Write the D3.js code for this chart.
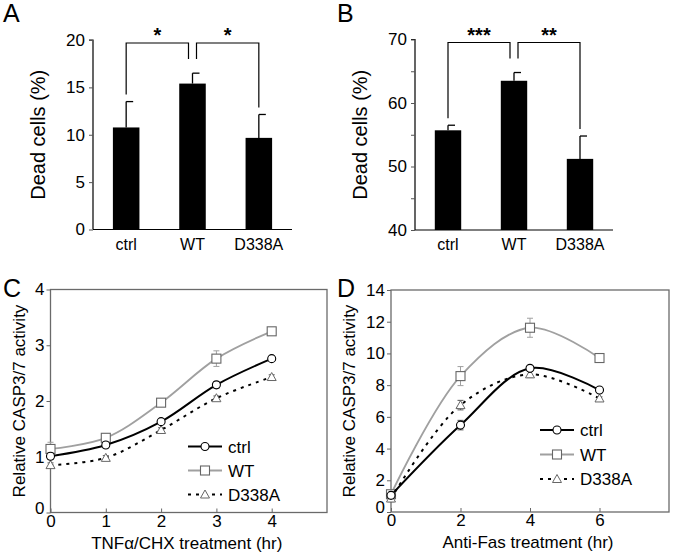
<!DOCTYPE html>
<html><head><meta charset="utf-8">
<script src="https://cdn.jsdelivr.net/npm/d3@7"></script>
<style>body{margin:0;background:#fff}svg{display:block;font-family:"Liberation Sans",Arial,sans-serif}</style>
</head><body><svg id="c" width="675" height="557"></svg>
<script>
// ---- Data ----
const barCats = ["ctrl", "WT", "D338A"];
const aValues = [10.77, 15.4, 9.67];
const aErrors = [2.73, 1.1, 2.47];
const aTicks = [0, 5, 10, 15, 20];
const bValues = [55.7, 63.5, 51.2];
const bErrors = [0.8, 1.3, 3.6];
const bTicks = [40, 45, 50, 55, 60, 65, 70];
const bTickLabels = [40, 50, 60, 70];

const cTimes = [0, 1, 2, 3, 4];
const cCtrl = [1.01, 1.21, 1.63, 2.29, 2.76];
const cCtrlErr = [0.06, 0.05, 0.04, 0.06, 0.04];
const cWT = [1.14, 1.34, 1.97, 2.76, 3.25];
const cWTErr = [0.12, 0.04, 0.06, 0.14, 0.06];
const cD338A = [0.85, 0.98, 1.48, 2.05, 2.43];
const cD338AErr = [0.04, 0.04, 0.04, 0.04, 0.04];
const cXTicks = [0, 1, 2, 3, 4];
const cYTicks = [0, 1, 2, 3, 4];

const dTimes = [0, 2, 4, 6];
const dCtrl = [1.05, 5.48, 9.06, 7.69];
const dCtrlErr = [0.2, 0.3, 0.1, 0.1];
const dWT = [1.12, 8.57, 11.62, 9.71];
const dWTErr = [0.2, 0.6, 0.6, 0.1];
const dD338A = [0.85, 6.74, 8.68, 7.16];
const dD338AErr = [0.2, 0.3, 0.2, 0.1];
const dXTicks = [0, 2, 4, 6];
const dYTicks = [0, 2, 4, 6, 8, 10, 12, 14];

const svg = d3.select("#c");
const GRAY = "#a0a0a0";
const fmt = d3.format("d");

function panelLabel(t, x, y) {
  svg.append("text").attr("x", x).attr("y", y).attr("font-size", 25).text(t);
}

// ---- Bar panels ----
function barPanel(o) {
  const g = svg.append("g");
  const y = d3.scaleLinear().domain(o.domain).range([o.y0, o.y1]);
  const x = d3.scaleBand().domain(barCats).range([o.x0, o.x1]).paddingInner(0.6).paddingOuter(0.3);
  g.selectAll("rect.b").data(o.values).join("rect")
    .attr("x", (d, i) => x(barCats[i]))
    .attr("y", d => y(d))
    .attr("width", x.bandwidth())
    .attr("height", d => y(o.domain[0]) - y(d))
    .attr("fill", "#000");
  o.values.forEach((v, i) => {
    const cx = x(barCats[i]) + x.bandwidth() / 2;
    g.append("line").attr("x1", cx).attr("x2", cx).attr("y1", y(v)).attr("y2", y(v + o.errors[i])).attr("stroke", "#000").attr("stroke-width", 1.3);
    g.append("line").attr("x1", cx).attr("x2", cx + 7).attr("y1", y(v + o.errors[i])).attr("y2", y(v + o.errors[i])).attr("stroke", "#000").attr("stroke-width", 1.3);
  });
  const ax = d3.axisLeft(y).tickValues(o.ticks).tickSize(4).tickFormat(d => o.labels.includes(d) ? fmt(d) : "");
  const ag = g.append("g").attr("transform", `translate(${o.x0},0)`).call(ax);
  ag.select(".domain").attr("stroke", "#000").attr("stroke-width", 1.2).attr("d", `M-4,${o.y1}H0V${o.y0}`);
  ag.selectAll("text").attr("font-size", 17).attr("font-family", "Liberation Sans, Arial").attr("fill", "#000").attr("dx", -1);
  ag.selectAll("line").attr("stroke", "#555");
  g.append("line").attr("x1", o.x0).attr("x2", o.x1).attr("y1", o.y0).attr("y2", o.y0).attr("stroke", "#000").attr("stroke-width", 1.2);
  barCats.forEach(c => {
    g.append("text").attr("x", x(c) + x.bandwidth() / 2).attr("y", o.y0 + 20).attr("text-anchor", "middle").attr("font-size", 16).text(c);
  });
  g.append("text").attr("transform", `translate(${o.x0 - 48},${(o.y0 + o.y1) / 2}) rotate(-90)`).attr("text-anchor", "middle").attr("font-size", 20).text("Dead cells (%)");
  const top = o.y1 + 3;
  const cxs = barCats.map(c => x(c) + x.bandwidth() / 2);
  const br = (x1, x2, l1, l2, star) => {
    g.append("path").attr("d", `M${x1},${l1}V${top}H${x2}V${l2}`).attr("fill", "none").attr("stroke", "#000").attr("stroke-width", 1.2);
    g.append("text").attr("x", (x1 + x2) / 2).attr("y", top - 1).attr("text-anchor", "middle").attr("font-size", 20).attr("font-weight", "bold").text(star);
  };
  const gap = 4;
  br(cxs[0], cxs[1] - gap, y(o.values[0] + o.errors[0]) - 7, top + 16, o.stars[0]);
  br(cxs[1] + gap, cxs[2], top + 16, y(o.values[2] + o.errors[2]) - 7, o.stars[1]);
}

barPanel({ x0: 93, x1: 292, y0: 229.5, y1: 40, domain: [0, 20], values: aValues, errors: aErrors, ticks: aTicks, labels: aTicks, stars: ["*", "*"] });
barPanel({ x0: 415, x1: 613, y0: 230, y1: 39.5, domain: [40, 70], values: bValues, errors: bErrors, ticks: bTicks, labels: bTickLabels, stars: ["***", "**"] });
panelLabel("A", 3, 22);
panelLabel("B", 337, 22);

// ---- Line panels ----
function linePanel(o) {
  const g = svg.append("g");
  const x = d3.scaleLinear().domain(o.xDomain).range([o.x0, o.x1]);
  const y = d3.scaleLinear().domain(o.yDomain).range([o.y0, o.y1]);
  g.append("rect").attr("x", o.x0).attr("y", o.y1).attr("width", o.x1 - o.x0).attr("height", o.y0 - o.y1).attr("fill", "none").attr("stroke", "#6a6a6a").attr("stroke-width", 1.3);
  const ya = g.append("g").attr("transform", `translate(${o.x0},0)`).call(d3.axisLeft(y).tickValues(o.yTicks).tickSize(4).tickPadding(2).tickFormat(fmt));
  ya.select(".domain").remove();
  ya.selectAll("line").attr("stroke", "#666");
  ya.selectAll("text").attr("font-size", 17).attr("font-family", "Liberation Sans, Arial").attr("fill", "#000");
  ya.selectAll(".tick").filter(d => d === 0).select("text").attr("dy", "0.05em");
  const xa = g.append("g").attr("transform", `translate(0,${o.y0})`).call(d3.axisBottom(x).tickValues(o.xTicks).tickSizeInner(-4).tickSizeOuter(0).tickPadding(2).tickFormat(fmt));
  xa.select(".domain").remove();
  xa.selectAll("line").attr("stroke", "#666");
  xa.selectAll("text").attr("font-size", 17).attr("font-family", "Liberation Sans, Arial").attr("fill", "#000").attr("dy", "0.71em");
  g.append("text").attr("transform", `translate(${o.x0 - o.yLabOff},${(o.y0 + o.y1) / 2}) rotate(-90)`).attr("text-anchor", "middle").attr("font-size", 17).text("Relative CASP3/7 activity");
  g.append("text").attr("x", (o.x0 + o.x1) / 2 - 2).attr("y", o.y0 + 36).attr("text-anchor", "middle").attr("font-size", 17).text(o.xLabel);

  const series = [
    { name: "WT", vals: o.wt, errs: o.wtErr, color: GRAY, dash: null, shape: "square" },
    { name: "D338A", vals: o.d338a, errs: o.d338aErr, color: "#000", dash: "3,5", shape: "triangle" },
    { name: "ctrl", vals: o.ctrl, errs: o.ctrlErr, color: "#000", dash: null, shape: "circle" }
  ];
  const line = d3.line().x(d => x(d[0])).y(d => y(d[1])).curve(d3.curveCatmullRom.alpha(0.5));
  const marker = (sel, shape, cx, cy, color) => {
    if (shape === "circle") sel.append("circle").attr("cx", cx).attr("cy", cy).attr("r", 4).attr("fill", "#fff").attr("stroke", color).attr("stroke-width", 1.1);
    else if (shape === "square") sel.append("rect").attr("x", cx - 4.5).attr("y", cy - 4.5).attr("width", 9).attr("height", 9).attr("fill", "#fff").attr("stroke", "#666").attr("stroke-width", 1.1);
    else sel.append("path").attr("d", `M${cx},${cy - 4.5}L${cx + 4.5},${cy + 3.5}L${cx - 4.5},${cy + 3.5}Z`).attr("fill", "#fff").attr("stroke", "#666").attr("stroke-width", 1);
  };
  series.forEach(s => {
    const pts = o.times.map((t, i) => [t, s.vals[i]]);
    s.vals.forEach((v, i) => {
      const cx = x(o.times[i]);
      g.append("path").attr("d", `M${cx - 3},${y(v + s.errs[i])}H${cx + 3}M${cx},${y(v + s.errs[i])}V${y(v - s.errs[i])}M${cx - 3},${y(v - s.errs[i])}H${cx + 3}`).attr("stroke", s.color === GRAY ? GRAY : "#555").attr("fill", "none").attr("stroke-width", 1);
    });
    g.append("path").datum(pts).attr("d", line).attr("fill", "none").attr("stroke", s.color).attr("stroke-width", s.color === GRAY ? 1.8 : 2).attr("stroke-dasharray", s.dash);
    s.vals.forEach((v, i) => marker(g, s.shape, x(o.times[i]), y(v), s.color));
  });
  const leg = [series[2], series[0], series[1]];
  leg.forEach((s, i) => {
    const ly = o.legY + i * o.legStep;
    g.append("line").attr("x1", o.legX).attr("x2", o.legX + 34).attr("y1", ly).attr("y2", ly).attr("stroke", s.color).attr("stroke-width", s.color === GRAY ? 1.8 : 2).attr("stroke-dasharray", s.dash);
    marker(g, s.shape, o.legX + 17, ly, s.color);
    g.append("text").attr("x", o.legX + 40).attr("y", ly + 6).attr("font-size", 17).text(s.name);
  });
}

linePanel({ x0: 50.5, x1: 327, y0: 512.5, y1: 289.5, xDomain: [0, 5], yDomain: [0, 4], times: cTimes,
  ctrl: cCtrl, ctrlErr: cCtrlErr, wt: cWT, wtErr: cWTErr, d338a: cD338A, d338aErr: cD338AErr,
  xTicks: cXTicks, yTicks: cYTicks, xLabel: "TNFα/CHX treatment (hr)", legX: 188, legY: 446.5, legStep: 24, yLabOff: 26 });
linePanel({ x0: 391, x1: 669, y0: 512, y1: 290, xDomain: [0, 8], yDomain: [0, 14], times: dTimes,
  ctrl: dCtrl, ctrlErr: dCtrlErr, wt: dWT, wtErr: dWTErr, d338a: dD338A, d338aErr: dD338AErr,
  xTicks: dXTicks, yTicks: dYTicks, xLabel: "Anti-Fas treatment (hr)", legX: 540, legY: 430, legStep: 24.5, yLabOff: 36 });
panelLabel("C", 3, 297);
panelLabel("D", 337, 297);
</script></body></html>
